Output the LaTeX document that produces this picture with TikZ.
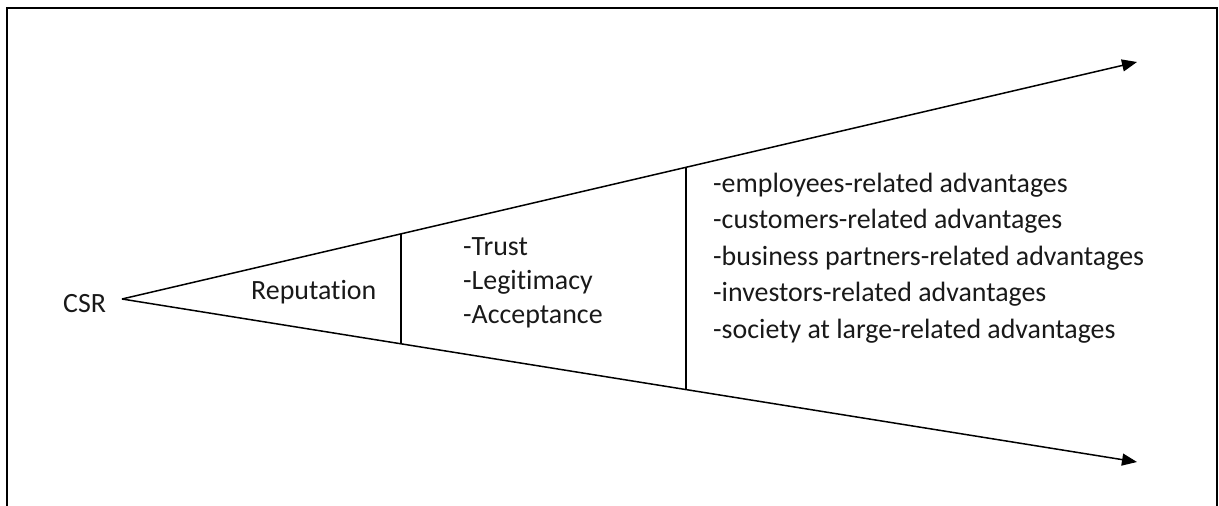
\documentclass[tikz,border=0pt]{standalone}
\usepackage{fontspec}
\setmainfont{Carlito}[Ligatures={NoCommon}]
\usetikzlibrary{arrows.meta}
\begin{document}
\begin{tikzpicture}[x=1pt,y=-1pt,
  lbl/.style={anchor=base west,inner sep=0pt,font=\fontsize{27.9}{32}\selectfont,text=black!90},
  arr/.style={line width=1.5pt,-{Triangle[length=15pt,width=12pt]}},
  sep/.style={line width=1.4pt}]
\useasboundingbox (0,0) rectangle (1219,506);
\draw[line width=2pt] (7,506) -- (7,8) -- (1217,8) -- (1217,506);
\coordinate (apex) at (122,299);
\coordinate (toptip) at (1137,62);
\coordinate (bottip) at (1137,462);
\coordinate (a1) at (401,233.8);
\coordinate (b1) at (401,343.9);
\coordinate (a2) at (686,167.2);
\coordinate (b2) at (686,389.9);
\draw[arr] (apex) -- (toptip);
\draw[arr] (apex) -- (bottip);
\draw[sep] (a1) -- (b1);
\draw[sep] (a2) -- (b2);
\node[lbl] (csr) at (63,312) {CSR};
\node[lbl] (rep) at (251,299) {Reputation};
\node[lbl] (t1) at (463,255) {-Trust};
\node[lbl] (t2) at (463,289) {-Legitimacy};
\node[lbl] (t3) at (463,323) {-Acceptance};
\node[lbl] (r1) at (713,192) {-employees-related advantages};
\node[lbl] (r2) at (713,228.5) {-customers-related advantages};
\node[lbl] (r3) at (713,265) {-business partners-related advantages};
\node[lbl] (r4) at (713,301.5) {-investors-related advantages};
\node[lbl] (r5) at (713,338) {-society at large-related advantages};
\end{tikzpicture}
\end{document}
